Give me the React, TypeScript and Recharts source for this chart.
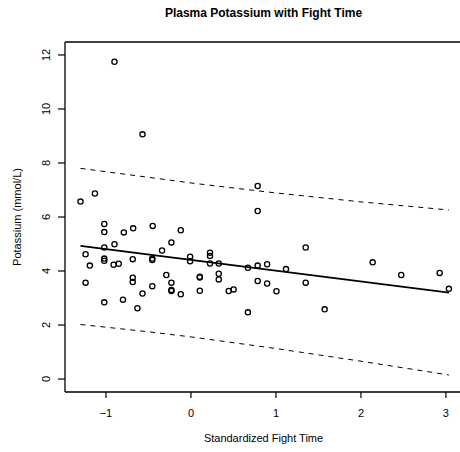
import { ComposedChart, Scatter, XAxis, YAxis, ReferenceLine } from 'recharts'

// observed points (standardized fight time, potassium mmol/L)
const fightTime = [
    -1.30, -1.13, -0.90, -0.57, -1.02, -1.02, -0.79, -0.68, -0.45, -0.12,
    -0.23, -0.90, -1.02, -0.34, -1.24, -1.02, -1.02, -0.91, -0.85, -0.685,
    -0.455, -0.455, -0.01, -0.01, -1.19, -1.24, -0.685, -0.685, -0.29, -0.23,
    -0.23, -0.23, -0.455, -0.57, -0.12, -1.02, -0.80, -0.63, 0.785, 0.785,
    0.224, 0.224, 0.224, 0.327, 0.67, 0.785, 0.896, 1.118, 1.35, 0.104,
    0.104, 0.327, 0.327, 0.785, 0.896, 1.35, 0.104, 0.444, 0.502, 1.006,
    0.67, 2.138, 2.474, 2.926, 3.035, 1.573,
]
const potassium = [
    6.57, 6.87, 11.75, 9.06, 5.74, 5.44, 5.43, 5.58, 5.67, 5.51,
    5.06, 4.99, 4.87, 4.76, 4.62, 4.46, 4.38, 4.23, 4.27, 4.44,
    4.46, 4.41, 4.53, 4.36, 4.20, 3.57, 3.75, 3.59, 3.85, 3.57,
    3.30, 3.26, 3.44, 3.17, 3.14, 2.84, 2.94, 2.62, 7.15, 6.22,
    4.68, 4.56, 4.28, 4.28, 4.12, 4.20, 4.25, 4.07, 4.87, 3.79,
    3.76, 3.90, 3.69, 3.63, 3.54, 3.57, 3.27, 3.26, 3.32, 3.25,
    2.47, 4.32, 3.85, 3.93, 3.34, 2.58,
]

// fitted line and prediction band
const fitX = [-1.30, 3.035]
const fitY = [4.93, 3.20]
const bandX = [-1.30, -0.5, 0, 1, 2, 3.035]
const upperBand = [7.80, 7.47, 7.26, 6.89, 6.56, 6.26]
const lowerBand = [2.02, 1.75, 1.56, 1.13, 0.66, 0.15]

const xTicks = [-1, 0, 1, 2, 3]
const yTicks = [0, 2, 4, 6, 8, 10, 12]

const points = fightTime.map((x, i) => ({ x, y: potassium[i] }))
const fit = fitX.map((x, i) => ({ x, y: fitY[i] }))
const upper = bandX.map((x, i) => ({ x, y: upperBand[i] }))
const lower = bandX.map((x, i) => ({ x, y: lowerBand[i] }))

const font = '"Liberation Sans", Arial, sans-serif'

const OpenCircle = (props: any) => (
    <circle cx={props.cx} cy={props.cy} r={2.6} fill="none" stroke="#000" strokeWidth={1.3} />
)

const XTick = (props: any) => (
    <text x={props.x} y={417} textAnchor="middle" fontSize={11} fontFamily={font} fill="#000">
        {props.payload.value < 0 ? '\u2212' + Math.abs(props.payload.value) : props.payload.value}
    </text>
)

const YTick = (props: any) => (
    <text
        x={50}
        y={props.y}
        transform={`rotate(-90, 50, ${props.y})`}
        textAnchor="middle"
        fontSize={11}
        fontFamily={font}
        fill="#000"
    >
        {props.payload.value}
    </text>
)

export default function App() {
    return (
        <div style={{ position: 'fixed', left: 0, top: 0, width: 460, height: 452, overflow: 'hidden', background: '#fff', fontFamily: font }}>
            <ComposedChart width={462} height={452} margin={{ top: 42, right: 0, bottom: 0, left: 0 }}>
                <XAxis
                    type="number"
                    dataKey="x"
                    domain={[-1.482, 3.189]}
                    ticks={xTicks}
                    allowDataOverflow
                    height={60}
                    tickSize={6}
                    tick={<XTick />}
                    axisLine={{ stroke: '#000', strokeWidth: 1.3 }}
                    tickLine={{ stroke: '#000', strokeWidth: 1.2 }}
                />
                <YAxis
                    type="number"
                    dataKey="y"
                    domain={[-0.48, 12.48]}
                    ticks={yTicks}
                    allowDataOverflow
                    width={65}
                    tickSize={7}
                    tick={<YTick />}
                    axisLine={{ stroke: '#000', strokeWidth: 1.3 }}
                    tickLine={{ stroke: '#000', strokeWidth: 1.2 }}
                />
                <ReferenceLine y={12.48} stroke="#000" strokeWidth={1.3} ifOverflow="visible" />
                <Scatter data={upper} line={{ stroke: '#000', strokeWidth: 1, strokeDasharray: '5 5' }} shape={() => null} isAnimationActive={false} />
                <Scatter data={lower} line={{ stroke: '#000', strokeWidth: 1, strokeDasharray: '5 5' }} shape={() => null} isAnimationActive={false} />
                <Scatter data={fit} line={{ stroke: '#000', strokeWidth: 1.8 }} shape={() => null} isAnimationActive={false} />
                <Scatter data={points} shape={<OpenCircle />} isAnimationActive={false} />
            </ComposedChart>
            <div style={{ position: 'absolute', left: 0, width: 527, top: 6, textAlign: 'center', fontSize: 12, fontWeight: 'bold' }}>
                Plasma Potassium with Fight Time
            </div>
            <div style={{ position: 'absolute', left: 0, width: 527, top: 432, textAlign: 'center', fontSize: 11 }}>
                Standardized Fight Time
            </div>
            <svg style={{ position: 'absolute', left: 0, top: 0 }} width={60} height={452}>
                <text x={21} y={217} transform="rotate(-90, 21, 217)" textAnchor="middle" fontSize={11} fontFamily={font} fill="#000">
                    Potassium (mmol/L)
                </text>
            </svg>
        </div>
    )
}
